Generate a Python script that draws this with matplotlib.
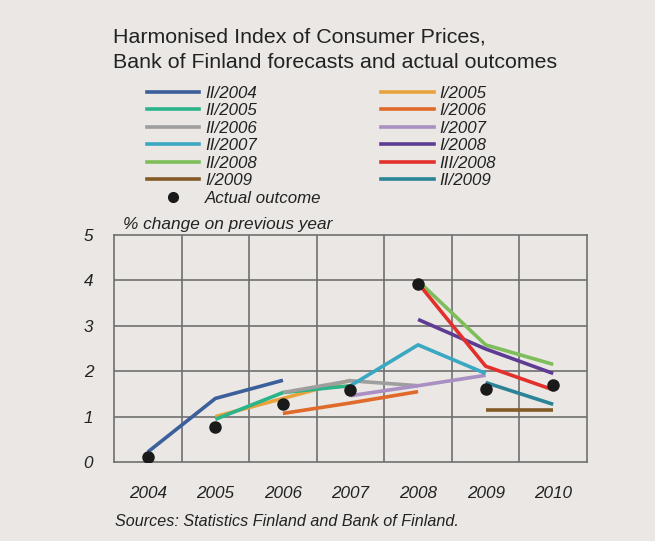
import matplotlib
matplotlib.use("Agg")
import matplotlib.pyplot as plt
from matplotlib.lines import Line2D

plt.rcParams['font.family'] = ['Liberation Sans', 'DejaVu Sans']

years = [2004, 2005, 2006, 2007, 2008, 2009, 2010]

forecasts = {
    "II/2004": ([2004, 2005, 2006], [0.22, 1.40, 1.80]),
    "I/2005": ([2005, 2006, 2007], [1.00, 1.40, 1.80]),
    "II/2005": ([2005, 2006, 2007], [0.94, 1.53, 1.68]),
    "I/2006": ([2006, 2007, 2008], [1.07, 1.30, 1.55]),
    "II/2006": ([2006, 2007, 2008], [1.53, 1.79, 1.68]),
    "I/2007": ([2007, 2008, 2009], [1.46, 1.68, 1.91]),
    "II/2007": ([2007, 2008, 2009], [1.68, 2.58, 1.95]),
    "I/2008": ([2008, 2009, 2010], [3.14, 2.49, 1.95]),
    "II/2008": ([2008, 2009, 2010], [3.99, 2.58, 2.15]),
    "III/2008": ([2008, 2009, 2010], [3.94, 2.11, 1.59]),
    "I/2009": ([2009, 2010], [1.15, 1.15]),
    "II/2009": ([2009, 2010], [1.75, 1.27]),
}
colors = {
    "II/2004": "#3A5F9A",
    "I/2005": "#E8A23C",
    "II/2005": "#2BB38A",
    "I/2006": "#E06A2A",
    "II/2006": "#9E9E9E",
    "I/2007": "#A98FC2",
    "II/2007": "#3AA8C2",
    "I/2008": "#5E3C93",
    "II/2008": "#7DBE5A",
    "III/2008": "#E2302C",
    "I/2009": "#845A26",
    "II/2009": "#2A8496",
}
actual_years = [2004, 2005, 2006, 2007, 2008, 2009, 2010]
actual_values = [0.10, 0.76, 1.28, 1.58, 3.91, 1.60, 1.70]

left_col = ["II/2004", "II/2005", "II/2006", "II/2007", "II/2008", "I/2009"]
right_col = ["I/2005", "I/2006", "I/2007", "I/2008", "III/2008", "II/2009"]

bg = "#EAE7E4"
fig = plt.figure(figsize=(6.55, 5.41), dpi=100, facecolor=bg)
ax = fig.add_axes([114/655, 1-462/541, (587-114)/655, (462-235)/541], facecolor=bg)

grid_c = "#6F6F6F"
ax.set_xlim(2003.5, 2010.5)
ax.set_ylim(0, 5)
for b in [2004.5, 2005.5, 2006.5, 2007.5, 2008.5, 2009.5]:
    ax.axvline(b, color=grid_c, lw=1.2, zorder=1)
for v in [1, 2, 3, 4]:
    ax.axhline(v, color=grid_c, lw=1.2, zorder=1)
for s in ax.spines.values():
    s.set_color(grid_c)
    s.set_linewidth(1.2)

handles = {}
for name, (xs, ys) in forecasts.items():
    ln, = ax.plot(xs, ys, color=colors[name], lw=2.6, solid_capstyle='butt', zorder=3)
    handles[name] = ln
pt, = ax.plot(actual_years, actual_values, 'o', color='#1A1A1A', ms=8, lw=0, zorder=5)

ax.set_xticks(years)
ax.set_xticklabels([str(y) for y in years], fontsize=12.3, style='italic', color='#222222')
ax.set_yticks([0, 1, 2, 3, 4, 5])
ax.set_yticklabels(['0', '1', '2', '3', '4', '5'], fontsize=12.3, style='italic', color='#222222')
ax.tick_params(axis='both', length=0)
ax.tick_params(axis='x', pad=17)
ax.tick_params(axis='y', pad=15)

fig.text(113/655, 1-37/541, "Harmonised Index of Consumer Prices,", fontsize=15.4, color='#222222', va='center')
fig.text(113/655, 1-62/541, "Bank of Finland forecasts and actual outcomes", fontsize=15.4, color='#222222', va='center')
fig.text(123/655, 1-224/541, "% change on previous year", fontsize=12.4, style='italic', color='#222222', va='center')
fig.text(115/655, 1-522/541, "Sources: Statistics Finland and Bank of Finland.", fontsize=11.6, style='italic', color='#222222', va='center')

lead = left_col + ["Actual outcome"] + right_col
proxies = []
for n in lead:
    if n == "Actual outcome":
        proxies.append(Line2D([], [], marker='o', color='#1A1A1A', ms=7, lw=0))
    else:
        proxies.append(Line2D([], [], color=colors[n], lw=2.6))
leg = fig.legend(proxies, lead, loc='upper left', bbox_to_anchor=(140/655, 1-79/541),
                 ncol=2, frameon=False, handlelength=3.1, handletextpad=0.35,
                 columnspacing=3.5, labelspacing=0.145, borderaxespad=0,
                 prop={'size': 12.2, 'style': 'italic'})
for t in leg.get_texts():
    t.set_color('#222222')

fig.savefig("out.png", dpi=100, facecolor=bg)
